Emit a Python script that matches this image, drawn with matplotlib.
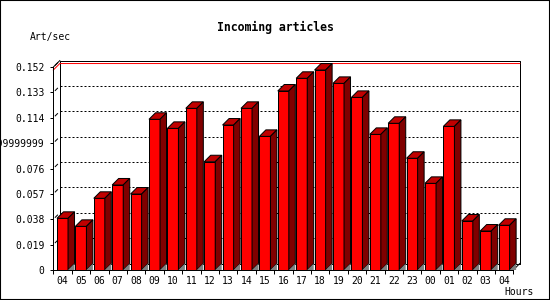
# ===================================================
# ARTÍCULOS ENTRANTES POR HORA (barras 3D)
# ===================================================

import numpy as np
import matplotlib
matplotlib.use('Agg')
import matplotlib.pyplot as plt
from matplotlib.patches import Rectangle

# DATOS

horas = ['04', '05', '06', '07', '08', '09', '10', '11', '12', '13',
         '14', '15', '16', '17', '18', '19', '20', '21', '22', '23',
         '00', '01', '02', '03', '04']

valores = [0.0387, 0.0327, 0.0537, 0.0637, 0.0569, 0.1129, 0.1061, 0.1211,
           0.0811, 0.1086, 0.1211, 0.1001, 0.1341, 0.1436, 0.1498, 0.1398,
           0.1293, 0.1016, 0.1099, 0.0837, 0.0649, 0.1076, 0.0367, 0.0292,
           0.0335]

yticks = [0, 0.019, 0.038, 0.057, 0.076, 0.095, 0.114, 0.133, 0.152]
ytick_labels = ['0', '0.019', '0.038', '0.057', '0.076', '0.09499999999999999',
                '0.114', '0.133', '0.152']

# Colores
rojo = '#ff0000'
rojo_sup = '#c00000'
rojo_lado = '#800000'
gris = '#808080'

plt.rcParams['font.family'] = 'DejaVu Sans Mono'

W, H = 550, 300
fig = plt.figure(figsize=(W / 100, H / 100), dpi=100)
ax = fig.add_axes([53.3 / W, 30 / H, 460 / W, 202.9 / H])

n = len(horas)
ymax = yticks[-1]
ax.set_xlim(0, n)
ax.set_ylim(0, ymax)

# Profundidad 3D (px) convertida a unidades de datos
prof = 6.5
pos = ax.get_position()
dx = prof * n / (pos.width * W)
dy = prof * ymax / (pos.height * H)
lw = 0.72

# Plano de fondo
ax.plot([dx, n + dx, n + dx, dx, dx], [dy, dy, ymax + dy, ymax + dy, dy],
        color='black', lw=lw, clip_on=False, zorder=1)
ax.plot([0, dx], [ymax, ymax + dy], color='black', lw=lw, clip_on=False, zorder=1)
ax.plot([n, n + dx], [0, dy], color='black', lw=lw, clip_on=False, zorder=1)

# Rejilla en el fondo
for v in yticks[1:-1]:
    ax.plot([dx, n + dx], [v + dy, v + dy], color='black', lw=lw,
            ls=(0, (2, 2)), clip_on=False, zorder=1)
for v in yticks[1:]:
    ax.plot([0.3 * dx, 0.65 * dx], [v + 0.3 * dy, v + 0.65 * dy],
            color='black', lw=lw, clip_on=False, zorder=1)

# Línea del máximo
vmax = max(valores)
ax.plot([0, dx, n + dx], [vmax, vmax + dy, vmax + dy], color=rojo, lw=lw,
        clip_on=False, zorder=2)

# Barras
x = np.arange(n) + 0.5
ancho = 0.6
ax.bar(x, valores, width=ancho, color=rojo, edgecolor='black', linewidth=lw, zorder=3)
for xi, v in zip(x, valores):
    xl, xr = xi - ancho / 2, xi + ancho / 2
    ax.fill([xl, xr, xr + dx, xl + dx], [v, v, v + dy, v + dy],
            facecolor=rojo_sup, edgecolor='black', lw=lw, clip_on=False, zorder=3)
    ax.fill([xr, xr, xr + dx, xr + dx], [0, v, v + dy, dy],
            facecolor=rojo_lado, edgecolor='black', lw=lw, clip_on=False, zorder=3)
    ax.fill([xr, xr + dx, xr + dx], [0, dy, 0],
            facecolor=gris, edgecolor='none', clip_on=False, zorder=3)

# Ejes
for s in ['top', 'right']:
    ax.spines[s].set_visible(False)
for s in ['left', 'bottom']:
    ax.spines[s].set_linewidth(lw)
    ax.spines[s].set_zorder(4)
ax.set_facecolor('none')

ax.set_yticks(yticks)
ax.set_yticklabels(ytick_labels)
ax.tick_params(axis='y', direction='out', length=2.2, width=lw, pad=4.3, labelsize=7)

ax.set_xticks(np.arange(n + 1))
ax.set_xticklabels([])
ax.set_xticks(x, minor=True)
ax.set_xticklabels(horas, minor=True)
ax.tick_params(axis='x', which='major', direction='out', length=2.9, width=lw)
ax.tick_params(axis='x', which='minor', length=0, pad=4, labelsize=7)

# Textos
fig.text(275 / W, 1 - 27 / H, 'Incoming articles', ha='center', va='center',
         fontsize=8.3, fontweight='bold')
fig.text(30 / W, 1 - 37 / H, 'Art/sec', ha='left', va='center', fontsize=7)
fig.text(534 / W, 1 - 292 / H, 'Hours', ha='right', va='center', fontsize=7)

# Marco
fig.patches.append(Rectangle((0, 0), 1, 1, fill=False, ec='black', lw=1.5,
                             transform=fig.transFigure))

fig.savefig('out.png', dpi=100)
